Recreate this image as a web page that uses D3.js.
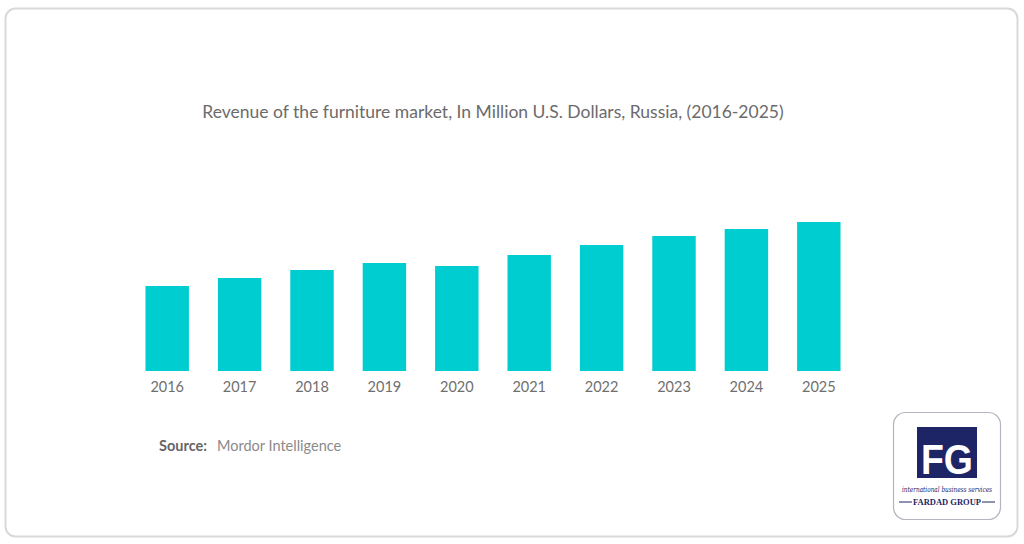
<!DOCTYPE html>
<html><head><meta charset="utf-8">
<script src="https://cdn.jsdelivr.net/npm/d3@7"></script>
<style>html,body{margin:0;padding:0;background:#fff;}svg{display:block;}</style>
</head><body>
<script>
const years = ["2016","2017","2018","2019","2020","2021","2022","2023","2024","2025"];
const revenue = [85, 93, 101, 108, 105, 116, 126, 135, 142, 149];
const titleText = "Revenue of the furniture market, In Million U.S. Dollars, Russia, (2016-2025)";

const W = 1024, H = 544;
const svg = d3.select("body").append("svg").attr("width", W).attr("height", H);

// card
svg.append("rect").attr("x", 5.5).attr("y", 8.5).attr("width", 1012).attr("height", 528)
  .attr("rx", 10).attr("fill", "#fff").attr("stroke", "#d9d9d9").attr("stroke-width", 2);

svg.append("text").attr("x", 493).attr("y", 118).attr("text-anchor", "middle")
  .attr("font-family", "Lato").attr("font-size", 17.5).attr("fill", "#6b6b6b").text(titleText);

const x = d3.scaleBand().domain(years).range([131, 855]).paddingInner(0.4).paddingOuter(0.2);
const y = d3.scaleLinear().domain([0, 150]).range([371, 221]);

svg.append("g").selectAll("rect").data(years).join("rect")
  .attr("x", d => x(d)).attr("width", x.bandwidth())
  .attr("y", (d, i) => y(revenue[i])).attr("height", (d, i) => y(0) - y(revenue[i]))
  .attr("fill", "#00cdd0");

const ax = svg.append("g").attr("transform", "translate(0,371)")
  .call(d3.axisBottom(x).tickSize(0).tickPadding(11));
ax.select(".domain").remove();
ax.selectAll("text").attr("font-family", "Lato").attr("font-size", 14.5).attr("fill", "#6f6f6f");

const src = svg.append("text").attr("x", 159).attr("y", 451).attr("font-family", "Lato").attr("font-size", 14.5);
src.append("tspan").attr("fill", "#666").attr("font-weight", "bold").text("Source:");
src.append("tspan").attr("fill", "#8a8a8a").attr("dx", 10).text("Mordor Intelligence");

// logo
const lg = svg.append("g");
lg.append("rect").attr("x", 893.5).attr("y", 412.5).attr("width", 107).attr("height", 107).attr("rx", 12)
  .attr("fill", "#fff").attr("stroke", "#b5b5c0").attr("stroke-width", 1.2);
lg.append("rect").attr("x", 917).attr("y", 427).attr("width", 60).attr("height", 51).attr("fill", "#1e2566");
lg.append("text").attr("x", 947).attr("y", 474).attr("text-anchor", "middle")
  .attr("font-family", "Liberation Sans").attr("font-weight", "bold")
  .attr("font-size", 42).attr("fill", "#fff").attr("textLength", 52).attr("lengthAdjust", "spacingAndGlyphs").text("FG");
lg.append("text").attr("x", 947).attr("y", 492).attr("text-anchor", "middle").attr("font-family", "DejaVu Serif")
  .attr("font-style", "italic").attr("font-size", 7.5).attr("fill", "#1e2566")
  .attr("textLength", 90).attr("lengthAdjust", "spacingAndGlyphs").text("international business services");
lg.append("line").attr("x1", 899).attr("x2", 912).attr("y1", 502).attr("y2", 502).attr("stroke", "#1e2566");
lg.append("line").attr("x1", 982).attr("x2", 995).attr("y1", 502).attr("y2", 502).attr("stroke", "#1e2566");
lg.append("text").attr("x", 947).attr("y", 505).attr("text-anchor", "middle").attr("font-family", "Liberation Serif")
  .attr("font-weight", "bold").attr("font-size", 8.5).attr("fill", "#1e2566").text("FARDAD GROUP");
</script>
</body></html>
